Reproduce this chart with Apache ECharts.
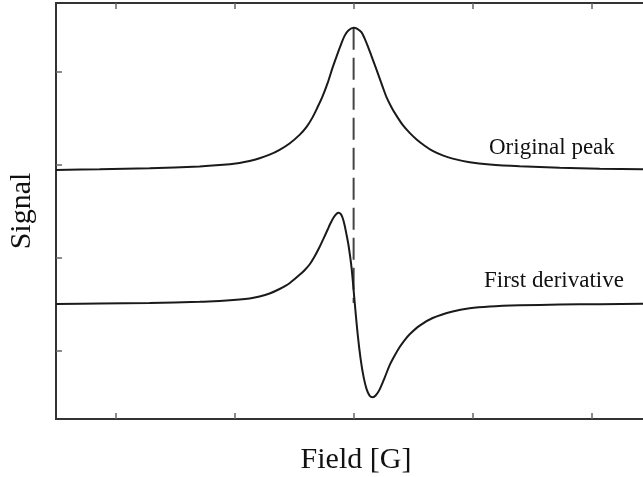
<!DOCTYPE html>
<html>
<head>
<meta charset="utf-8">
<title>Original peak and first derivative</title>
<script src="https://cdn.jsdelivr.net/npm/echarts@6/dist/echarts.min.js"></script>
<style>
  html, body { margin: 0; padding: 0; background: #fff; }
  #chart { width: 643px; height: 477px; }
</style>
</head>
<body>
<div id="chart"></div>
<script>
// readings: field position (0 = line centre, one tick = 1)
// and signal height (one tick = 1)
const fieldPeak = [-2.5, -2.134, -1.714, -1.294, -1.126, -0.958, -0.874, -0.79, -0.706, -0.622,
  -0.538, -0.454, -0.395, -0.345, -0.303, -0.261, -0.218, -0.176, -0.143, -0.109, -0.076, -0.042,
  0, 0.034, 0.067, 0.092, 0.118, 0.151, 0.193, 0.244, 0.277, 0.319, 0.361, 0.412, 0.471, 0.529,
  0.597, 0.664, 0.748, 0.832, 0.975, 1.143, 1.395, 1.731, 2.067, 2.429, 2.54];
const signalPeak = [1.946, 1.953, 1.965, 1.983, 1.998, 2.022, 2.042, 2.071, 2.11, 2.163,
  2.231, 2.323, 2.409, 2.511, 2.62, 2.737, 2.882, 3.048, 3.167, 3.285, 3.387, 3.446,
  3.473, 3.46, 3.425, 3.36, 3.28, 3.167, 3.022, 2.839, 2.726, 2.618, 2.527, 2.43, 2.344, 2.274,
  2.206, 2.15, 2.102, 2.068, 2.029, 2.004, 1.985, 1.97, 1.96, 1.954, 1.952];

const fieldDeriv = [-2.5, -2.134, -1.714, -1.294, -1.126, -0.958, -0.874, -0.79, -0.706, -0.622,
  -0.538, -0.454, -0.412, -0.37, -0.328, -0.286, -0.252, -0.218, -0.193, -0.168, -0.143, -0.126,
  -0.109, -0.092, -0.076, -0.059, -0.042, -0.017, 0.008, 0.034, 0.059, 0.084, 0.109, 0.134, 0.16,
  0.185, 0.218, 0.261, 0.303, 0.345, 0.387, 0.429, 0.471, 0.555, 0.664, 0.832, 0.975, 1.143,
  1.395, 1.731, 2.067, 2.429, 2.54];
const signalDeriv = [0.505, 0.51, 0.517, 0.529, 0.539, 0.554, 0.566, 0.587, 0.619, 0.667,
  0.729, 0.819, 0.869, 0.93, 1.016, 1.118, 1.21, 1.306, 1.376, 1.435, 1.475, 1.486,
  1.473, 1.43, 1.355, 1.247, 1.129, 0.892, 0.538, 0.183, -0.086, -0.28, -0.409, -0.478, -0.495,
  -0.478, -0.414, -0.285, -0.151, -0.048, 0.043, 0.118, 0.181, 0.274, 0.355, 0.425, 0.459, 0.478,
  0.491, 0.5, 0.504, 0.508, 0.509];

// dashed guide from the peak top down to the zero crossing
const guideField = [0, 0];
const guideSignal = [3.473, 0.516];

const xTicks = [-2, -1, 0, 1, 2];
const yTicks = [0, 1, 2, 3];

const labelPeak = 'Original peak';
const labelDeriv = 'First derivative';

const serif = "'Liberation Serif', 'Times New Roman', serif";
const frameColor = '#333';

const chart = echarts.init(document.getElementById('chart'), null, { renderer: 'canvas' });

const pairs = (xs, ys) => xs.map((x, i) => [x, ys[i]]);

const tickStyle = (vals) => ({
  show: true,
  inside: true,
  length: 6,
  customValues: vals,
  lineStyle: { color: '#666', width: 1.5 }
});

chart.setOption({
  animation: false,
  backgroundColor: '#fff',
  grid: {
    left: 56, top: 3, width: 600, height: 416,
    outerBoundsMode: 'none', containLabel: false,
    show: true, borderColor: frameColor, borderWidth: 2, backgroundColor: 'transparent'
  },
  xAxis: [
    {
      type: 'value', min: -2.5, max: 2.54,
      name: 'Field [G]', nameLocation: 'middle', nameGap: 26,
      nameTextStyle: { fontFamily: serif, fontSize: 30, color: '#111' },
      axisLine: { show: true, onZero: false, lineStyle: { color: frameColor, width: 2 } },
      axisTick: tickStyle(xTicks),
      axisLabel: { show: false },
      splitLine: { show: false }
    },
    {
      type: 'value', position: 'top', min: -2.5, max: 2.54,
      axisLine: { show: true, onZero: false, lineStyle: { color: frameColor, width: 2 } },
      axisTick: tickStyle(xTicks),
      axisLabel: { show: false },
      splitLine: { show: false }
    }
  ],
  yAxis: {
    type: 'value', min: -0.73, max: 3.74,
    name: 'Signal', nameLocation: 'middle', nameGap: 19,
    nameTextStyle: { fontFamily: serif, fontSize: 30, color: '#111' },
    axisLine: { show: true, onZero: false, lineStyle: { color: frameColor, width: 2 } },
    axisTick: tickStyle(yTicks),
    axisLabel: { show: false },
    splitLine: { show: false }
  },
  series: [
    {
      type: 'line', name: labelPeak, data: pairs(fieldPeak, signalPeak),
      smooth: 0.3, showSymbol: false, symbol: 'none',
      lineStyle: { color: '#1a1a1a', width: 2 }
    },
    {
      type: 'line', name: labelDeriv, data: pairs(fieldDeriv, signalDeriv),
      smooth: 0.3, showSymbol: false, symbol: 'none',
      lineStyle: { color: '#1a1a1a', width: 2 }
    },
    {
      type: 'line', data: pairs(guideField, guideSignal),
      showSymbol: false, symbol: 'none', z: 1,
      lineStyle: { color: '#444', width: 2, type: [22, 8] }
    }
  ],
  graphic: [
    {
      type: 'text', left: 489, top: 136,
      style: { text: labelPeak, font: '23px ' + serif, fill: '#111' }
    },
    {
      type: 'text', left: 484, top: 269,
      style: { text: labelDeriv, font: '23px ' + serif, fill: '#111' }
    }
  ]
});
</script>
</body>
</html>
